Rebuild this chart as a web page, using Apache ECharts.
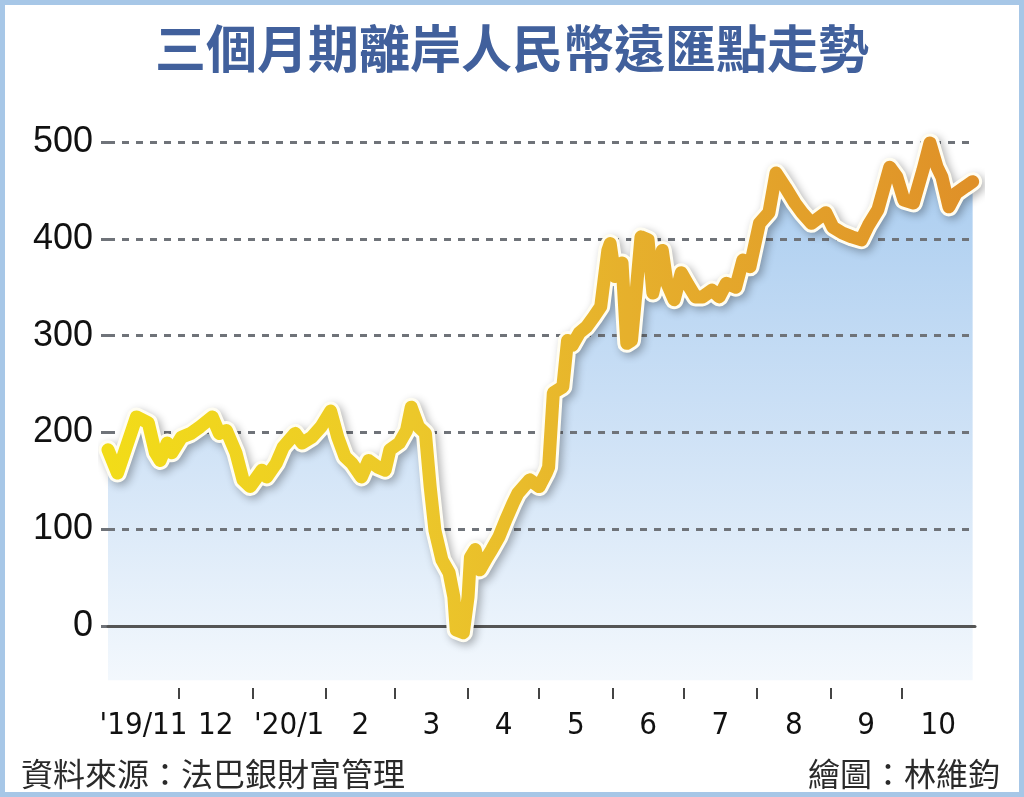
<!DOCTYPE html>
<html><head><meta charset="utf-8">
<script src="https://cdn.jsdelivr.net/npm/echarts@6/dist/echarts.min.js"></script>
<style>html,body{margin:0;padding:0;background:#fff}#c{width:1024px;height:797px}</style>
</head><body><div id="c"></div>
<script>
const dates = [
'2019-11-01','2019-11-05','2019-11-13','2019-11-18','2019-11-21','2019-11-23','2019-11-26','2019-11-28',
'2019-12-02','2019-12-06','2019-12-10','2019-12-15','2019-12-18','2019-12-21','2019-12-25','2019-12-28','2019-12-31',
'2020-01-05','2020-01-07','2020-01-11','2020-01-14','2020-01-19','2020-01-22','2020-01-26','2020-01-30',
'2020-02-03','2020-02-06','2020-02-09','2020-02-12','2020-02-16','2020-02-19','2020-02-23','2020-02-26','2020-02-28',
'2020-03-03','2020-03-06','2020-03-08','2020-03-11','2020-03-14','2020-03-16','2020-03-18','2020-03-21','2020-03-24','2020-03-26','2020-03-27','2020-03-30',
'2020-04-01','2020-04-02','2020-04-04','2020-04-06','2020-04-09','2020-04-11','2020-04-14','2020-04-17','2020-04-20','2020-04-22','2020-04-27',
'2020-05-01','2020-05-04','2020-05-05','2020-05-07','2020-05-11','2020-05-13','2020-05-15','2020-05-18','2020-05-21','2020-05-24','2020-05-27','2020-05-30','2020-05-31',
'2020-06-02','2020-06-05','2020-06-07','2020-06-09','2020-06-11','2020-06-13','2020-06-16','2020-06-18','2020-06-22','2020-06-24','2020-06-27','2020-06-30',
'2020-07-03','2020-07-06','2020-07-09','2020-07-13','2020-07-16','2020-07-19','2020-07-23','2020-07-26','2020-07-29',
'2020-08-02','2020-08-06','2020-08-09','2020-08-13','2020-08-17','2020-08-20','2020-08-24','2020-08-30',
'2020-09-02','2020-09-06','2020-09-10','2020-09-14','2020-09-17','2020-09-21','2020-09-26','2020-09-29',
'2020-10-02','2020-10-06','2020-10-10','2020-10-13','2020-10-16','2020-10-18','2020-10-21','2020-10-24','2020-10-28','2020-10-31'
];
const values = [
182,158,216,210,179,171,189,179,
195,199,206,216,199,202,179,151,144,
161,154,168,185,199,189,195,206,
222,195,175,168,154,171,164,161,182,
189,202,226,206,199,144,99,68,55,30,-4,-7,
30,71,79,58,71,79,92,110,127,137,151,
144,158,164,241,247,295,290,303,309,319,330,388,395,
361,375,292,295,347,402,399,344,388,354,337,365,
352,340,340,347,340,354,350,378,371,
416,427,468,453,437,427,416,427,
412,406,402,399,414,430,474,464,
440,437,471,499,474,464,433,447,454,459
];
const monthStarts = ['2019-11-01','2019-12-01','2020-01-01','2020-02-01','2020-03-01','2020-04-01','2020-05-01','2020-06-01','2020-07-01','2020-08-01','2020-09-01','2020-10-01','2020-11-01'];
const monthLabels = ["'19/11","12","'20/1","2","3","4","5","6","7","8","9","10"];
const yTicks = [0,100,200,300,400,500];
const areaBase = -56;

const ts = s => echarts.number.parseDate(s).getTime();
const points = dates.map((d,i)=>[ts(d), values[i]]);
const starts = monthStarts.map(ts);
const tickVals = starts.slice(1, -1);
const labelVals = monthLabels.map((_, i) => (starts[i] + starts[i+1]) / 2);
const labelFor = v => {
  let best = 0, bd = Infinity;
  labelVals.forEach((lv, i) => { const d = Math.abs(lv - v); if (d < bd) { bd = d; best = i; } });
  return monthLabels[best];
};

const chart = echarts.init(document.getElementById('c'), null, {renderer: 'canvas'});
const gridColor = '#6f7379';
chart.setOption({
  animation: false,
  backgroundColor: '#fff',
  title: [
    {text: '三個月期離岸人民幣遠匯點走勢', left: 'center', top: 18,
     textStyle: {fontFamily: 'Noto Sans CJK TC', fontSize: 51, fontWeight: 700, color: '#41609c'}},
    {text: '資料來源：法巴銀財富管理', left: 16, top: 753,
     textStyle: {fontFamily: 'Noto Sans CJK TC', fontSize: 32, fontWeight: 400, color: '#2a2a2a'}},
    {text: '繪圖：林維鈞', right: 19, top: 753,
     textStyle: {fontFamily: 'Noto Sans CJK TC', fontSize: 32, fontWeight: 400, color: '#2a2a2a'}}
  ],
  grid: {left: 108, right: 49, top: 142, bottom: 171, containLabel: false},
  xAxis: [
    {type: 'value', min: starts[0], max: starts[12], z: 3,
     axisLine: {show: true, onZero: false, lineStyle: {color: '#555', width: 3}},
     axisTick: {show: false}, axisLabel: {show: false}, splitLine: {show: false}},
    {type: 'value', min: starts[0], max: starts[12], position: 'bottom', offset: 62,
     axisLine: {show: false, onZero: false},
     axisTick: {show: true, customValues: tickVals, length: 11, lineStyle: {color: '#444', width: 2}},
     axisLabel: {show: true, customValues: labelVals, formatter: v => labelFor(v), margin: 22,
       fontFamily: "'Liberation Sans Narrow', 'DejaVu Sans Condensed', 'Liberation Sans', sans-serif", fontSize: 31, color: '#111'},
     splitLine: {show: false}}
  ],
  yAxis: {type: 'value', min: yTicks[0], max: yTicks[yTicks.length-1], interval: 100, z: 2,
    axisLine: {show: false},
    axisTick: {show: true, length: 7, lineStyle: {color: gridColor, width: 3}},
    axisLabel: {margin: 15, fontFamily: "'Liberation Sans', Arial, sans-serif", fontSize: 36, color: '#111'},
    splitLine: {show: true, lineStyle: {color: gridColor, width: 3, type: [7, 7]}}
  },
  series: [
    {type: 'line', data: points, xAxisIndex: 0, showSymbol: false, symbol: 'none', clip: false, z: 1, silent: true,
     lineStyle: {width: 0, opacity: 0},
     areaStyle: {origin: areaBase, opacity: 1,
       color: new echarts.graphic.LinearGradient(0, 142, 0, 680, [
         {offset: 0, color: '#a7cbef'}, {offset: 0.55, color: '#cfe2f6'}, {offset: 1, color: '#f3f8fd'}], true)}},
    {type: 'line', data: points, xAxisIndex: 0, showSymbol: false, symbol: 'none', clip: false, z: 5, silent: true,
     lineStyle: {width: 19, color: '#fffdf2', cap: 'round', join: 'round',
       shadowColor: 'rgba(0,0,0,0.3)', shadowBlur: 8, shadowOffsetX: 3, shadowOffsetY: 3}},
    {type: 'line', data: points, xAxisIndex: 0, showSymbol: false, symbol: 'none', clip: false, z: 6, silent: true,
     lineStyle: {width: 13, cap: 'round', join: 'round',
       color: new echarts.graphic.LinearGradient(108, 0, 975, 0, [
         {offset: 0, color: '#f2dc18'}, {offset: 0.35, color: '#ecc82a'}, {offset: 0.6, color: '#e6b02c'}, {offset: 1, color: '#df9028'}], true)}}
  ],
  graphic: [
    {type: 'rect', z: 100, silent: true, shape: {x: 2.5, y: 2.5, width: 1019, height: 792},
     style: {fill: 'none', stroke: '#a7c7e7', lineWidth: 5}}
  ]
});
</script></body></html>
